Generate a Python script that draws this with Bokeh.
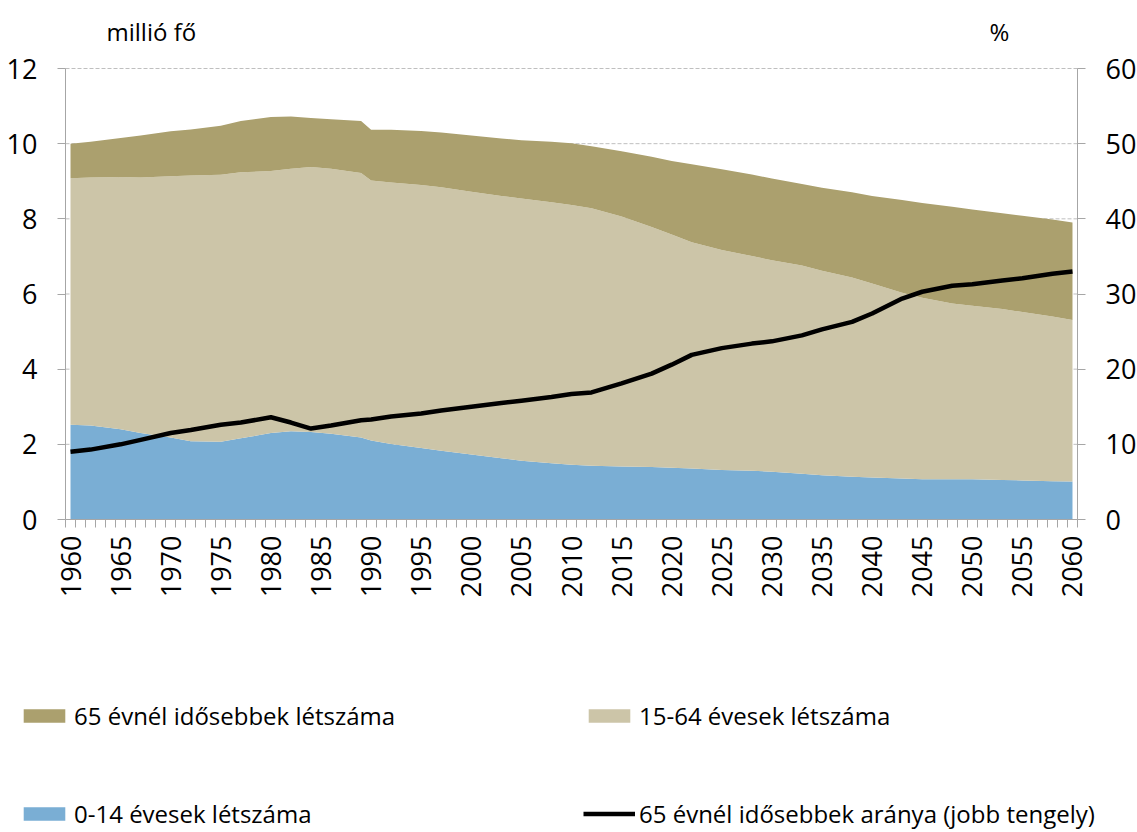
from math import pi
from bokeh.plotting import figure
from bokeh.models import (Range1d, LinearAxis, FixedTicker, Legend, LegendItem,
                          Label, ColumnDataSource)
from bokeh.embed import file_html
from bokeh.resources import INLINE

# ---------------- data ----------------
years = [1960, 1962, 1965, 1967, 1970, 1972, 1975, 1977, 1980, 1982, 1984, 1986,
         1989, 1990, 1992, 1995, 1997, 2000, 2003, 2005, 2008, 2010, 2012, 2015,
         2018, 2020, 2022, 2025, 2028, 2030, 2033, 2035, 2038, 2040, 2043, 2045,
         2048, 2050, 2053, 2055, 2058, 2060]

# million persons
pop_0_14 = [2.52, 2.50, 2.40, 2.30, 2.18, 2.08, 2.07, 2.16, 2.30, 2.35, 2.33, 2.28,
            2.18, 2.10, 2.01, 1.90, 1.83, 1.73, 1.63, 1.56, 1.50, 1.46, 1.43, 1.41,
            1.40, 1.38, 1.36, 1.32, 1.30, 1.27, 1.22, 1.18, 1.14, 1.12, 1.09, 1.07,
            1.07, 1.07, 1.05, 1.04, 1.02, 1.01]
pop_15_64 = [6.56, 6.60, 6.71, 6.80, 6.95, 7.07, 7.10, 7.08, 6.97, 6.98, 7.05, 7.05,
             7.04, 6.92, 6.96, 7.00, 7.01, 6.99, 6.98, 6.98, 6.94, 6.91, 6.85, 6.65,
             6.38, 6.20, 6.02, 5.85, 5.71, 5.63, 5.54, 5.44, 5.30, 5.16, 4.94, 4.83,
             4.68, 4.62, 4.55, 4.48, 4.38, 4.30]
pop_65_plus = [0.92, 0.95, 1.04, 1.12, 1.20, 1.23, 1.31, 1.36, 1.44, 1.39, 1.30, 1.32,
               1.38, 1.35, 1.40, 1.44, 1.46, 1.50, 1.53, 1.55, 1.61, 1.64, 1.65, 1.74,
               1.87, 1.96, 2.07, 2.15, 2.17, 2.17, 2.17, 2.21, 2.27, 2.33, 2.47, 2.52,
               2.57, 2.56, 2.55, 2.56, 2.58, 2.59]
# percent (right axis)
share_65_plus = [9.0, 9.3, 10.0, 10.6, 11.5, 11.9, 12.6, 12.9, 13.6, 12.9, 12.1, 12.5,
                 13.2, 13.3, 13.7, 14.1, 14.5, 15.0, 15.5, 15.8, 16.3, 16.7, 16.9, 18.1,
                 19.4, 20.6, 21.9, 22.8, 23.4, 23.7, 24.5, 25.3, 26.3, 27.4, 29.4, 30.3,
                 31.1, 31.3, 31.8, 32.1, 32.7, 33.0]

year_labels = list(range(1960, 2061, 5))
left_ticks = [0, 2, 4, 6, 8, 10, 12]
right_ticks = [0, 10, 20, 30, 40, 50, 60]

names = ["65 évnél idősebbek létszáma", "15-64 évesek létszáma",
         "0-14 évesek létszáma", "65 évnél idősebbek aránya (jobb tengely)"]
unit_left = "millió fő"
unit_right = "%"

# ---------------- styling / layout ----------------
C_014 = "#7AAED4"
C_1564 = "#CCC5A8"
C_65 = "#ABA06E"
AXIS_C = "#A6A6A6"
GRID_C = "#BFBFBF"
FONT = "Open Sans"
TICK_FS = "27px"
TEXT_FS = "24px"

W, H = 1137, 832
# target pixel box of the chart's axes (the frame itself fills the whole canvas,
# axes are pinned with fixed_location so that legend and titles are not clipped)
PX_L, PX_R, PX_T, PX_B = 65, 1077, 68, 519

x_lo, x_hi = min(years) - 0.5, max(years) + 0.5
x_per_px = (x_hi - x_lo) / (PX_R - PX_L)
y_hi = max(left_ticks)
y_per_px = y_hi / (PX_B - PX_T)
r_hi = max(right_ticks)
r_per_px = r_hi / (PX_B - PX_T)

src = ColumnDataSource(dict(year=years, a=pop_0_14, b=pop_15_64, c=pop_65_plus,
                            share=share_65_plus))

p = figure(width=W, height=H, output_backend="svg", toolbar_location=None,
           x_range=Range1d(x_lo - PX_L * x_per_px, x_hi + (W - PX_R) * x_per_px),
           y_range=Range1d(-(H - PX_B) * y_per_px, PX_B * y_per_px),
           min_border=0, min_border_left=0, min_border_right=0, min_border_top=0,
           min_border_bottom=0)
p.extra_y_ranges = {"pct": Range1d(-(H - PX_B) * r_per_px, PX_B * r_per_px)}
p.outline_line_color = None
p.background_fill_color = "white"
p.border_fill_color = "white"
p.xgrid.visible = False
p.ygrid.visible = False

# dashed horizontal gridlines limited to the category span
p.segment(x0=[x_lo] * len(left_ticks), x1=[x_hi] * len(left_ticks),
          y0=left_ticks, y1=left_ticks, line_color=GRID_C, line_width=1,
          line_dash="4 2")

areas = p.varea_stack(["a", "b", "c"], x="year", source=src,
                      color=[C_014, C_1564, C_65])
ln = p.line("year", "share", source=src, y_range_name="pct",
            line_color="black", line_width=4.5, line_join="round")

# x axis pinned at y = 0
xa = p.xaxis[0]
xa.fixed_location = 0
xa.bounds = (x_lo, x_hi)
xa.ticker = FixedTicker(ticks=year_labels,
                        minor_ticks=[y - 0.5 for y in range(min(years), max(years) + 2)])
xa.major_label_orientation = pi / 2
xa.major_tick_out = 0
xa.major_tick_in = 0
xa.minor_tick_out = 8
xa.minor_tick_in = 0
xa.minor_tick_line_color = AXIS_C
xa.axis_line_color = AXIS_C
xa.major_label_standoff = 8
xa.major_label_text_font = FONT
xa.major_label_text_font_size = TICK_FS
xa.major_label_text_color = "black"

# left axis pinned at the first category edge
ya = p.yaxis[0]
ya.fixed_location = x_lo
ya.ticker = FixedTicker(ticks=left_ticks)
ya.bounds = (min(left_ticks), max(left_ticks))
ya.major_tick_out = 8
ya.major_tick_in = 0
ya.minor_tick_out = 0
ya.minor_tick_in = 0
ya.axis_line_color = AXIS_C
ya.major_tick_line_color = AXIS_C
ya.major_label_standoff = 20
ya.major_label_text_font = FONT
ya.major_label_text_font_size = TICK_FS
ya.major_label_text_color = "black"

# right axis pinned at the last category edge
ra = LinearAxis(y_range_name="pct", ticker=FixedTicker(ticks=right_ticks),
                bounds=(min(right_ticks), max(right_ticks)), fixed_location=x_hi)
ra.major_tick_out = 8
ra.major_tick_in = 0
ra.minor_tick_out = 0
ra.minor_tick_in = 0
ra.axis_line_color = AXIS_C
ra.major_tick_line_color = AXIS_C
ra.major_label_standoff = 20
ra.major_label_text_font = FONT
ra.major_label_text_font_size = TICK_FS
ra.major_label_text_color = "black"
p.add_layout(ra, "right")

# axis unit titles (screen units from the frame's bottom-left = canvas)
for txt, sx in ((unit_left, 106), (unit_right, 989)):
    p.add_layout(Label(x=sx, y=H - 31, x_units="screen", y_units="screen",
                       text=txt, text_font=FONT, text_font_size=TEXT_FS,
                       text_color="black", text_baseline="middle"))

# legend: 2 x 2 grid at the bottom
legend = Legend(items=[LegendItem(label=names[0], renderers=[areas[2]]),
                       LegendItem(label=names[1], renderers=[areas[1]]),
                       LegendItem(label=names[2], renderers=[areas[0]]),
                       LegendItem(label=names[3], renderers=[ln])],
                orientation="horizontal", ncols=2,
                location=(18, 2),
                glyph_width=52, glyph_height=17, label_standoff=4, label_width=444,
                spacing=65, padding=0, margin=0, border_line_alpha=0,
                background_fill_alpha=0, label_text_font=FONT,
                label_text_font_size=TEXT_FS, label_text_color="black",
                label_height=17)
p.add_layout(legend, "center")

open("out.html", "w").write(file_html(p, INLINE))
